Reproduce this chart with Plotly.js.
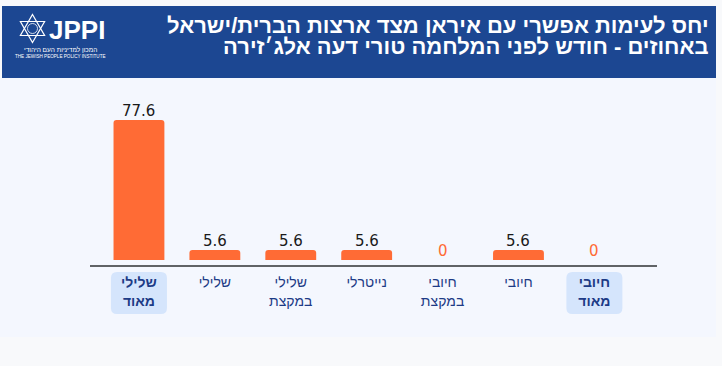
<!DOCTYPE html>
<html>
<head>
<meta charset="utf-8">
<script src="https://cdn.plot.ly/plotly-3.0.1.min.js"></script>
<style>html,body{margin:0;padding:0;background:#f8f9fb;}#chart{width:722px;height:366px;}</style>
</head>
<body>
<div id="chart"></div>
<script>
// ---- data ----
var categories = ["שלילי מאוד", "שלילי", "שלילי במקצת", "נייטרלי", "חיובי במקצת", "חיובי", "חיובי מאוד"];
var tickLabels = ["<b>שלילי<br>מאוד</b>", "שלילי", "שלילי<br>במקצת", "נייטרלי", "חיובי<br>במקצת", "חיובי", "<b>חיובי<br>מאוד</b>"];
var values = [77.6, 5.6, 5.6, 5.6, 0, 5.6, 0];
var highlighted = ["שלילי מאוד", "חיובי מאוד"];
var titleLines = ["יחס לעימות אפשרי עם איראן מצד ארצות הברית/ישראל", "באחוזים - חודש לפני המלחמה טורי דעה אלג׳זירה"];

// ---- geometry helpers (pixel -> paper) ----
var W = 722, H = 366, L = 90, R = 65, T = 95, B = 101;
var PW = W - L - R, PH = H - T - B;
function px(x) { return (x - L) / PW; }
function py(y) { return (H - B - y) / PH; }

var ORANGE = "#ff6b35";
var NAVY = "#1d3b86";

var trace = {
  type: "bar",
  x: categories,
  y: values,
  marker: { color: ORANGE },
  width: 0.67,
  hoverinfo: "skip"
};

var shapes = [
  // chart panel
  { type: "rect", xref: "paper", yref: "paper", x0: px(0), x1: px(716), y0: py(337), y1: py(78),
    fillcolor: "#f4f7fe", line: { width: 0 }, layer: "below" },
  // header band
  { type: "rect", xref: "paper", yref: "paper", x0: px(2), x1: px(716), y0: py(78), y1: py(6),
    fillcolor: "#1c4792", line: { width: 0 }, layer: "below" },
  // star of David (logo)
  { type: "path", xref: "paper", yref: "paper", xsizemode: "pixel", ysizemode: "pixel",
    xanchor: px(32.5), yanchor: py(28.5),
    path: "M 0,14 L 12.1,-7 L -12.1,-7 Z", line: { color: "#ffffff", width: 1.2 }, layer: "above" },
  { type: "path", xref: "paper", yref: "paper", xsizemode: "pixel", ysizemode: "pixel",
    xanchor: px(32.5), yanchor: py(28.5),
    path: "M 0,-14 L 12.1,7 L -12.1,7 Z", line: { color: "#ffffff", width: 1.2 }, layer: "above" },
  { type: "circle", xref: "paper", yref: "paper", xsizemode: "pixel", ysizemode: "pixel",
    xanchor: px(32.5), yanchor: py(28.5), x0: -5, x1: 5, y0: -5, y1: 5,
    line: { color: "#ffffff", width: 0.8 }, layer: "above" }
];

highlighted.forEach(function (cat) {
  shapes.push({
    type: "path", xref: "x", yref: "paper", xsizemode: "pixel", ysizemode: "pixel",
    xanchor: cat, yanchor: 0,
    path: "M -22,-7 L 22,-7 Q 28,-7 28,-13 L 28,-43 Q 28,-49 22,-49 L -22,-49 Q -28,-49 -28,-43 L -28,-13 Q -28,-7 -22,-7 Z",
    fillcolor: "#d5e5fc", line: { width: 0 }, layer: "below"
  });
});

var annotations = [
  { text: "<b>" + titleLines[0] + "</b>", xref: "paper", yref: "paper",
    x: px(710), y: py(25.5), xanchor: "right", yanchor: "middle", align: "right", showarrow: false,
    borderpad: 0,
    font: { family: "Liberation Sans, Arial, sans-serif", size: 22, color: "#ffffff" } },
  { text: "<b>" + titleLines[1] + "</b>", xref: "paper", yref: "paper",
    x: px(710), y: py(47), xanchor: "right", yanchor: "middle", align: "right", showarrow: false,
    borderpad: 0,
    font: { family: "Liberation Sans, Arial, sans-serif", size: 22, color: "#ffffff" } },
  { text: "<b>JPPI</b>", xref: "paper", yref: "paper", x: px(47), y: py(30),
    xanchor: "left", yanchor: "middle", showarrow: false,
    font: { family: "Liberation Sans, Arial, sans-serif", size: 26, color: "#ffffff" } },
  { text: "המכון למדיניות העם היהודי", xref: "paper", yref: "paper", x: px(60), y: py(49),
    xanchor: "center", yanchor: "middle", showarrow: false,
    font: { family: "Liberation Sans, Arial, sans-serif", size: 6.5, color: "#ffffff" } },
  { text: "THE JEWISH PEOPLE POLICY INSTITUTE", xref: "paper", yref: "paper", x: px(60), y: py(56.5),
    xanchor: "center", yanchor: "middle", showarrow: false,
    font: { family: "Liberation Sans, Arial, sans-serif", size: 4.6, color: "#ffffff" } }
];

// value labels above the bars, placed on the data scale
categories.forEach(function (cat, i) {
  var v = values[i];
  annotations.push({
    text: v === 0 ? "0" : v.toFixed(1),
    xref: "x", yref: "y", x: cat, y: v,
    xanchor: "center", yanchor: "bottom", yshift: -2, showarrow: false,
    font: { family: "DejaVu Sans, sans-serif", size: 15, color: v === 0 ? ORANGE : "#1a1a1a" }
  });
});

var layout = {
  width: W, height: H,
  margin: { l: L, r: R, t: T, b: B, pad: 0 },
  paper_bgcolor: "#f8f9fb",
  plot_bgcolor: "rgba(0,0,0,0)",
  showlegend: false,
  barcornerradius: 3,
  xaxis: {
    type: "category",
    range: [-0.645, 6.825],
    tickmode: "array",
    tickvals: categories,
    ticktext: tickLabels,
    showline: true, linecolor: "#606366", linewidth: 1.5,
    showgrid: false, zeroline: false, ticks: "",
    ticklabelstandoff: 4,
    tickfont: { family: "Liberation Sans, Arial, sans-serif", size: 14, color: NAVY },
    fixedrange: true
  },
  yaxis: {
    range: [-2.77, 91.46],
    visible: false, showgrid: false, zeroline: false, fixedrange: true
  },
  shapes: shapes,
  annotations: annotations
};

Plotly.newPlot("chart", [trace], layout, { displayModeBar: false, staticPlot: true });
</script>
</body>
</html>
